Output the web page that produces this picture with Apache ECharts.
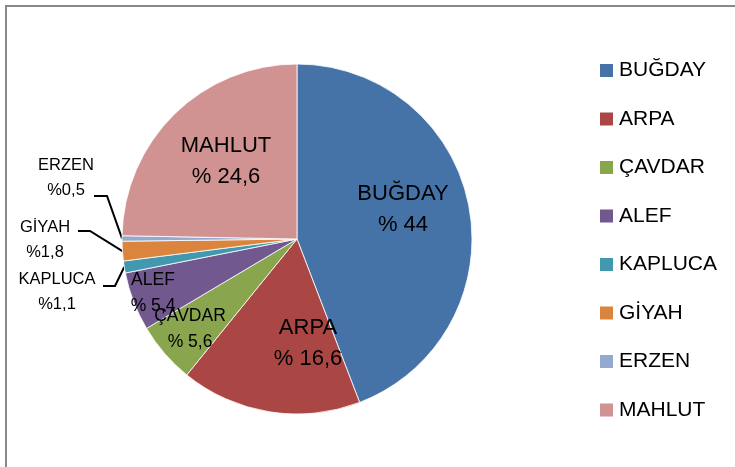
<!DOCTYPE html>
<html>
<head>
<meta charset="utf-8">
<script src="https://cdn.jsdelivr.net/npm/echarts@6/dist/echarts.min.js"></script>
<style>
  html, body { margin: 0; padding: 0; background: #fff; overflow: hidden; }
  #wrap { position: relative; width: 735px; height: 467px; overflow: hidden; }
  #frame {
    position: absolute; left: 5px; top: 5px; width: 900px; height: 900px;
    border-top: 2px solid #898989; border-left: 2px solid #898989;
  }
  #chart { position: absolute; left: 0; top: 0; width: 735px; height: 467px; }
</style>
</head>
<body>
<div id="wrap">
  <div id="frame"></div>
  <div id="chart"></div>
</div>
<script>
// crops and their shares (%)
const crops = ['BUĞDAY', 'ARPA', 'ÇAVDAR', 'ALEF', 'KAPLUCA', 'GİYAH', 'ERZEN', 'MAHLUT']
const shares = [44, 16.6, 5.6, 5.4, 1.1, 1.8, 0.5, 24.6]
const colors = ['#4572A7', '#AA4643', '#89A54E', '#71588F', '#4198AF', '#DB843D', '#93A9CF', '#D19392']

// where each label sits (center of the two-line block)
const labelSpots = {
  'BUĞDAY': [403, 209],
  'ARPA': [308, 343],
  'ÇAVDAR': [190, 329],
  'ALEF': [153, 293],
  'KAPLUCA': [57, 292],
  'GİYAH': [45, 240],
  'ERZEN': [66, 178],
  'MAHLUT': [226, 161]
}
// leader line bends for the small outside labels: [elbow, end]
const leaderBends = {
  'ERZEN': [[107, 196], [94, 196]],
  'GİYAH': [[90, 231], [78, 231]],
  'KAPLUCA': [[115, 286], [103, 286]]
}

const fmt = v => String(v).replace('.', ',')

const labelStyleFor = v => {
  if (v >= 10) return { fontSize: 22, lineHeight: 31 }
  if (v >= 5) return { fontSize: 17.5, lineHeight: 26 }
  return { fontSize: 16.5, lineHeight: 25 }
}

const chart = echarts.init(document.getElementById('chart'))

chart.setOption({
  backgroundColor: 'transparent',
  color: colors,
  animation: false,
  legend: {
    orient: 'vertical',
    left: 593,
    top: 55,
    itemWidth: 15,
    itemHeight: 15,
    itemGap: 27.5,
    icon: 'rect',
    data: crops,
    textStyle: {
      fontFamily: 'Liberation Sans, Arial, sans-serif',
      fontSize: 21,
      lineHeight: 20,
      color: '#000'
    }
  },
  series: [
    {
      type: 'pie',
      center: [297, 239],
      radius: 175,
      startAngle: 90,
      clockwise: true,
      avoidLabelOverlap: false,
      itemStyle: { borderColor: '#fff', borderWidth: 0.8 },
      label: {
        show: true,
        position: 'outside',
        color: '#000',
        fontFamily: 'Liberation Sans, Arial, sans-serif',
        formatter: p => p.name + '\n' + (p.value < 2 ? '%' : '% ') + fmt(p.value)
      },
      labelLine: {
        show: false,
        lineStyle: { color: '#000', width: 2 }
      },
      labelLayout: params => {
        const name = crops[params.dataIndex]
        const spot = labelSpots[name]
        const out = { x: spot[0], y: spot[1], align: 'center', verticalAlign: 'middle' }
        const bend = leaderBends[name]
        if (bend && params.labelLinePoints) {
          out.labelLinePoints = [params.labelLinePoints[0], bend[0], bend[1]]
        }
        return out
      },
      emphasis: { disabled: true },
      data: crops.map((name, i) => ({
        name,
        value: shares[i],
        label: labelStyleFor(shares[i]),
        labelLine: { show: !!leaderBends[name] }
      }))
    }
  ]
})
</script>
</body>
</html>
